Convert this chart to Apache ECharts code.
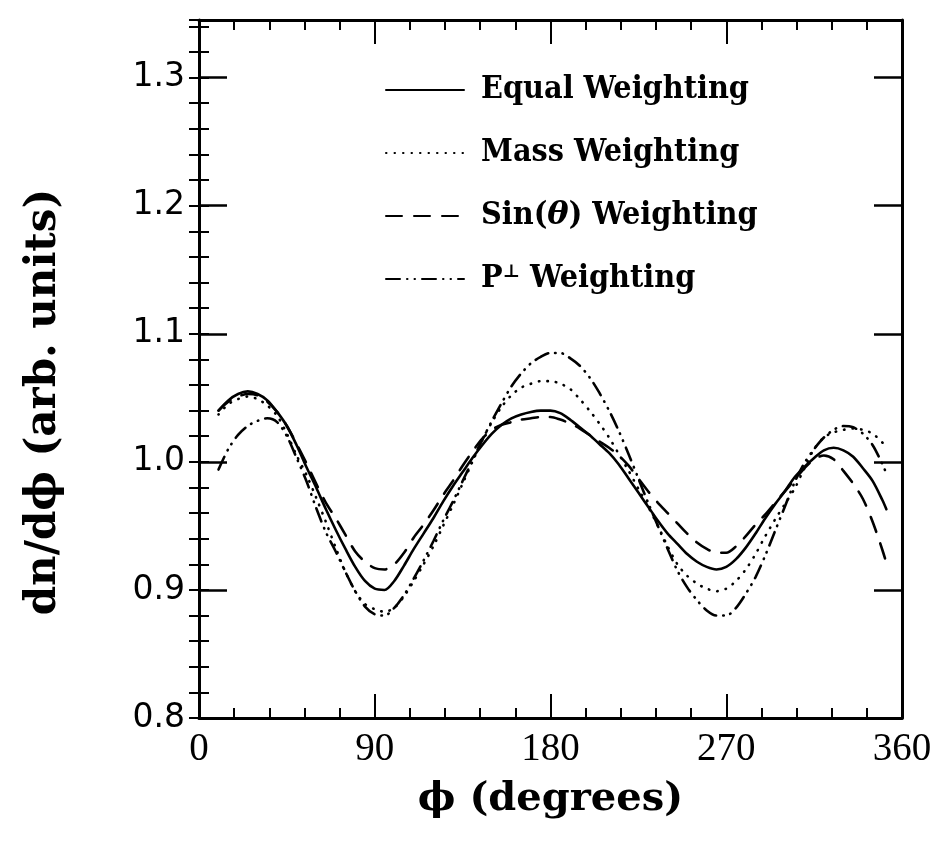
<!DOCTYPE html>
<html>
<head>
<meta charset="utf-8">
<script src="https://cdn.jsdelivr.net/npm/echarts@6/dist/echarts.min.js"></script>
<style>
  html, body { margin: 0; padding: 0; background: #fff; }
  #chart { width: 944px; height: 847px; }
</style>
</head>
<body>
<div id="chart"></div>
<script>
// phi in degrees
const phi = [10, 15, 20, 25, 30, 35, 40, 45, 50,
  55, 60, 65, 70, 75, 80, 85, 90, 95,
  100, 105, 110, 115, 120, 125, 130, 135, 140,
  145, 150, 155, 160, 165, 170, 175, 180, 185,
  190, 195, 200, 205, 210, 215, 220, 225, 230,
  235, 240, 245, 250, 255, 260, 265, 270, 275,
  280, 285, 290, 295, 300, 305, 310, 315, 320,
  325, 330, 335, 340, 345, 350, 352]

const equalW = [1.040, 1.048, 1.053, 1.055, 1.053, 1.048, 1.039, 1.028, 1.013,
  0.996, 0.980, 0.963, 0.947, 0.932, 0.918, 0.907, 0.901, 0.900,
  0.907, 0.919, 0.932, 0.944, 0.956, 0.969, 0.981, 0.992, 1.003,
  1.013, 1.022, 1.029, 1.034, 1.037, 1.039, 1.040, 1.040, 1.038,
  1.033, 1.027, 1.021, 1.014, 1.007, 0.998, 0.987, 0.976, 0.965,
  0.954, 0.944, 0.936, 0.928, 0.922, 0.918, 0.916, 0.918, 0.924,
  0.933, 0.944, 0.956, 0.967, 0.977, 0.988, 0.996, 1.003, 1.009,
  1.011, 1.009, 1.004, 0.995, 0.985, 0.970, 0.963]

const massW = [1.037, 1.045, 1.049, 1.051, 1.049, 1.044, 1.036, 1.022, 1.005,
  0.990, 0.972, 0.953, 0.933, 0.914, 0.899, 0.889, 0.885, 0.883,
  0.886, 0.895, 0.907, 0.920, 0.934, 0.950, 0.966, 0.983, 1.000,
  1.017, 1.031, 1.043, 1.052, 1.058, 1.061, 1.063, 1.063, 1.061,
  1.057, 1.049, 1.040, 1.030, 1.019, 1.006, 0.993, 0.979, 0.965,
  0.950, 0.934, 0.920, 0.911, 0.905, 0.901, 0.899, 0.901, 0.907,
  0.916, 0.928, 0.942, 0.955, 0.967, 0.979, 0.995, 1.010, 1.019,
  1.023, 1.025, 1.026, 1.025, 1.022, 1.015, 1.012]

const sinW = [1.040, 1.047, 1.051, 1.053, 1.052, 1.047, 1.039, 1.028, 1.014,
  0.999, 0.983, 0.968, 0.956, 0.943, 0.930, 0.922, 0.917, 0.916,
  0.920, 0.929, 0.941, 0.951, 0.962, 0.974, 0.985, 0.997, 1.008,
  1.018, 1.025, 1.029, 1.031, 1.033, 1.034, 1.035, 1.035, 1.033,
  1.030, 1.026, 1.021, 1.016, 1.011, 1.005, 0.997, 0.987, 0.977,
  0.968, 0.960, 0.952, 0.944, 0.937, 0.932, 0.929, 0.929, 0.934,
  0.942, 0.951, 0.959, 0.968, 0.977, 0.986, 0.995, 1.002, 1.005,
  1.002, 0.993, 0.983, 0.971, 0.953, 0.931, 0.921]

const perpW = [0.994, 1.010, 1.021, 1.028, 1.032, 1.034, 1.031, 1.020, 1.003,
  0.985, 0.964, 0.945, 0.930, 0.914, 0.899, 0.887, 0.881, 0.880,
  0.886, 0.896, 0.909, 0.923, 0.938, 0.954, 0.969, 0.985, 1.001,
  1.017, 1.032, 1.046, 1.059, 1.069, 1.077, 1.082, 1.085, 1.085,
  1.081, 1.075, 1.066, 1.054, 1.040, 1.024, 1.006, 0.987, 0.968,
  0.950, 0.932, 0.915, 0.902, 0.892, 0.884, 0.880, 0.880, 0.886,
  0.897, 0.910, 0.927, 0.946, 0.965, 0.984, 0.999, 1.010, 1.019,
  1.025, 1.028, 1.027, 1.022, 1.013, 0.998, 0.991]

const names = ['Equal Weighting', 'Mass Weighting', 'Sin(θ) Weighting', 'P⊥ Weighting']
const xTicks = [0, 90, 180, 270, 360]
const yTicks = [0.8, 0.9, 1.0, 1.1, 1.2, 1.3]

const chart = echarts.init(document.getElementById('chart'))

const line = (name, vals, type) => ({
  name: name,
  type: 'line',
  smooth: 0.3,
  symbol: 'circle',
  showSymbol: false,
  data: phi.map((p, i) => [p, vals[i]]),
  lineStyle: { color: '#000', width: 2.6, type: type, cap: 'round' },
  itemStyle: { color: '#000' }
})

const xBase = (pos, labels) => ({
  type: 'value',
  position: pos,
  min: 0,
  max: 360,
  interval: 90,
  axisLine: { show: true, lineStyle: { color: '#000', width: 3 } },
  axisTick: { show: true, inside: true, length: 24, lineStyle: { color: '#000', width: 2 } },
  minorTick: { show: true, splitNumber: 5, length: 10, lineStyle: { color: '#000', width: 2 } },
  splitLine: { show: false },
  axisLabel: {
    show: labels,
    margin: 12,
    color: '#000',
    fontFamily: 'Liberation Serif',
    fontSize: 39,
    formatter: v => (xTicks.indexOf(v) >= 0 ? String(v) : '')
  }
})

const yMajor = (pos, labels) => ({
  type: 'value',
  position: pos,
  min: 0.8,
  max: 1.345,
  interval: 0.1,
  axisLine: { show: true, onZero: false, lineStyle: { color: '#000', width: 3 } },
  axisTick: { show: true, inside: true, length: 28, lineStyle: { color: '#000', width: 2.5 } },
  splitLine: { show: false },
  axisLabel: {
    show: labels,
    margin: 14,
    color: '#000',
    fontFamily: 'DejaVu Sans',
    fontSize: 33,
    formatter: v => {
      const r = Math.round(v * 10) / 10
      return Math.abs(r - v) < 1e-6 && yTicks.indexOf(r) >= 0 ? r.toFixed(1) : ''
    }
  }
})

const yMinor = pos => ({
  type: 'value',
  position: pos,
  min: 0.8,
  max: 1.345,
  interval: 0.02,
  axisLine: { show: false },
  axisTick: { show: true, inside: true, length: 10, lineStyle: { color: '#000', width: 2 } },
  splitLine: { show: false },
  axisLabel: { show: false }
})

const yLeft = yMajor('left', true)
yLeft.name = 'dn/dϕ (arb. units)'
yLeft.nameLocation = 'middle'
yLeft.nameRotate = 90
yLeft.nameGap = 134
yLeft.nameTextStyle = {
  color: '#000', fontFamily: 'DejaVu Serif', fontWeight: 'bold', fontSize: 42,
  padding: [0, 66, 0, 0]
}

const xBottom = xBase('bottom', true)
xBottom.name = 'ϕ (degrees)'
xBottom.nameLocation = 'middle'
xBottom.nameGap = 62
xBottom.nameTextStyle = { color: '#000', fontFamily: 'DejaVu Serif', fontWeight: 'bold', fontSize: 40 }

chart.setOption({
  animation: false,
  backgroundColor: '#fff',
  grid: { left: 199, right: 42, top: 20, bottom: 129, containLabel: false },
  legend: {
    orient: 'vertical',
    left: 380,
    top: 68,
    itemWidth: 78,
    itemHeight: 14,
    itemGap: 29,
    data: names,
    itemStyle: { opacity: 0 },
    formatter: n => n.replace('⊥', '{s|⊥}').replace('θ', '{i|θ}'),
    textStyle: {
      color: '#000',
      fontFamily: 'DejaVu Serif Condensed',
      fontWeight: 'bold',
      fontSize: 32,
      lineHeight: 34,
      padding: [0, 0, 0, 12],
      rich: {
        s: { fontFamily: 'DejaVu Serif', fontSize: 18, fontWeight: 'bold', padding: [0, 0, 14, 0] },
        i: { fontFamily: 'DejaVu Serif', fontStyle: 'italic', fontSize: 32 }
      }
    }
  },
  xAxis: [xBottom, xBase('top', false)],
  yAxis: [yLeft, yMinor('left'), yMajor('right', false), yMinor('right')],
  series: [
    line(names[0], equalW, 'solid'),
    line(names[1], massW, [0.5, 8]),
    line(names[2], sinW, [16, 12]),
    line(names[3], perpW, [14, 7, 0.5, 7, 0.5, 7])
  ]
})
</script>
</body>
</html>
